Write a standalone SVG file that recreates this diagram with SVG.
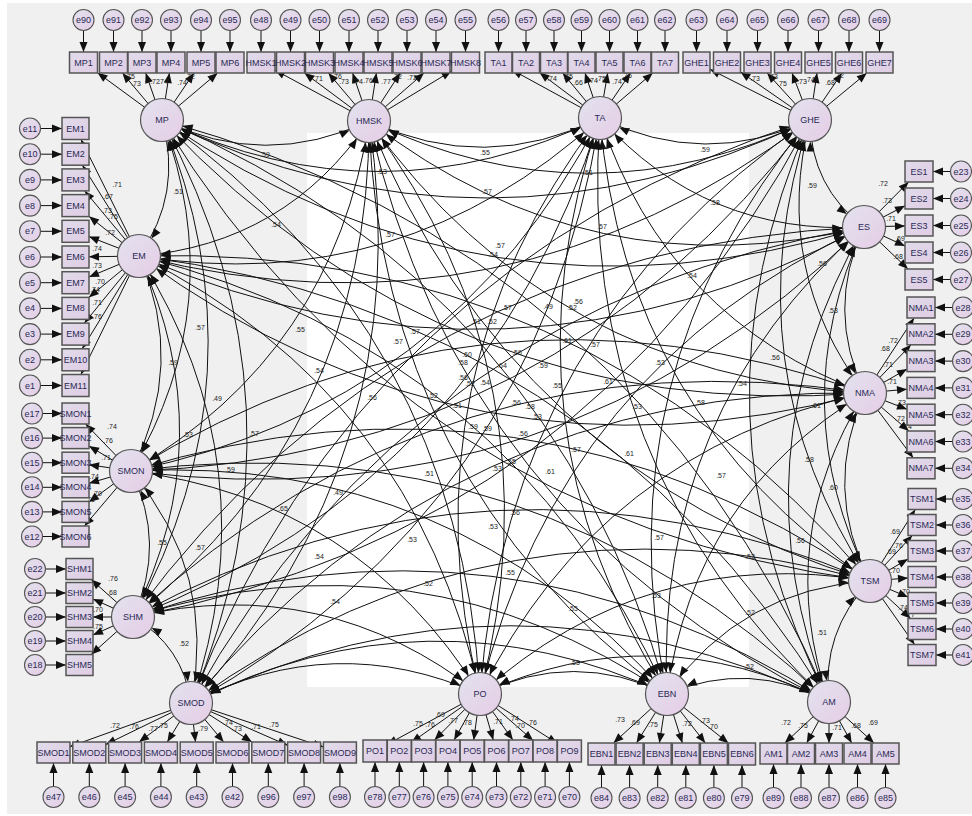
<svg xmlns="http://www.w3.org/2000/svg" width="972" height="816" viewBox="0 0 972 816">
<style>
.lat{fill:url(#gl);stroke:#555;stroke-width:1.2}
.box{fill:url(#gb);stroke:#555;stroke-width:1.5}
.err{fill:url(#gl);stroke:#555;stroke-width:1.1}
.t{font-family:"Liberation Sans",Arial,sans-serif;font-size:9px;fill:#2a2a55;text-anchor:middle;dominant-baseline:central}
.v{font-family:"Liberation Sans",Arial,sans-serif;font-size:7px;fill:#222;text-anchor:middle}
.c{fill:none;stroke:#111;stroke-width:1;marker-start:url(#cv);marker-end:url(#cv)}
.r{stroke:#111;stroke-width:1;marker-end:url(#ar)}
</style>
<defs>
<linearGradient id="gl" x1="0" y1="0" x2="1" y2="1"><stop offset="0" stop-color="#e2e2ee"/><stop offset="1" stop-color="#e6cde6"/></linearGradient>
<linearGradient id="gb" x1="0" y1="0" x2="1" y2="1"><stop offset="0" stop-color="#e0dcea"/><stop offset="1" stop-color="#e0cce4"/></linearGradient>
<marker id="cv" markerUnits="userSpaceOnUse" markerWidth="33" markerHeight="8" refX="31.5" refY="4" orient="auto-start-reverse" overflow="visible"><path d="M0,0 L10,4 L0,8 z" fill="#111"/></marker>
<marker id="ar" markerUnits="userSpaceOnUse" markerWidth="11" markerHeight="8" refX="10" refY="4" orient="auto" overflow="visible"><path d="M0,0 L10,4 L0,8 z" fill="#111"/></marker>
</defs>
<rect x="0" y="0" width="972" height="816" fill="#fff"/>
<rect x="7" y="3" width="965" height="811" fill="#f0f0f0"/>
<rect x="307" y="133" width="442" height="554" fill="#fff"/>
<g id="connectors">
<path class="c" d="M162 120 Q265 170 369 121"/>
<path class="c" d="M162 120 Q382 224 600 118"/>
<path class="c" d="M162 120 Q486 276 810 120"/>
<path class="c" d="M162 120 Q487 342 864 227"/>
<path class="c" d="M162 120 Q448 425 865 393"/>
<path class="c" d="M162 120 Q405 520 870 581"/>
<path class="c" d="M162 120 Q635 251 829 702"/>
<path class="c" d="M162 120 Q552 286 667 694"/>
<path class="c" d="M162 120 Q459 331 480 694"/>
<path class="c" d="M162 120 Q316 405 191 703"/>
<path class="c" d="M162 120 Q267 376 133 617"/>
<path class="c" d="M162 120 Q231 303 131 471"/>
<path class="c" d="M162 120 Q183 194 139 256"/>
<path class="c" d="M369 121 Q485 175 600 118"/>
<path class="c" d="M369 121 Q590 226 810 120"/>
<path class="c" d="M369 121 Q591 293 864 227"/>
<path class="c" d="M369 121 Q552 376 865 393"/>
<path class="c" d="M369 121 Q509 471 870 581"/>
<path class="c" d="M369 121 Q460 522 829 702"/>
<path class="c" d="M369 121 Q381 479 667 694"/>
<path class="c" d="M369 121 Q562 381 480 694"/>
<path class="c" d="M369 121 Q420 455 191 703"/>
<path class="c" d="M369 121 Q370 426 133 617"/>
<path class="c" d="M369 121 Q334 353 131 471"/>
<path class="c" d="M369 121 Q286 244 139 256"/>
<path class="c" d="M600 118 Q705 169 810 120"/>
<path class="c" d="M600 118 Q706 236 864 227"/>
<path class="c" d="M600 118 Q667 319 865 393"/>
<path class="c" d="M600 118 Q624 414 870 581"/>
<path class="c" d="M600 118 Q574 465 829 702"/>
<path class="c" d="M600 118 Q495 422 667 694"/>
<path class="c" d="M600 118 Q402 377 480 694"/>
<path class="c" d="M600 118 Q536 509 191 703"/>
<path class="c" d="M600 118 Q486 480 133 617"/>
<path class="c" d="M600 118 Q450 407 131 471"/>
<path class="c" d="M600 118 Q403 298 139 256"/>
<path class="c" d="M810 120 Q811 187 864 227"/>
<path class="c" d="M810 120 Q772 270 865 393"/>
<path class="c" d="M810 120 Q729 365 870 581"/>
<path class="c" d="M810 120 Q680 416 829 702"/>
<path class="c" d="M810 120 Q601 373 667 694"/>
<path class="c" d="M810 120 Q507 328 480 694"/>
<path class="c" d="M810 120 Q361 263 191 703"/>
<path class="c" d="M810 120 Q591 531 133 617"/>
<path class="c" d="M810 120 Q555 459 131 471"/>
<path class="c" d="M810 120 Q507 349 139 256"/>
<path class="c" d="M864 227 Q825 310 865 393"/>
<path class="c" d="M864 227 Q782 406 870 581"/>
<path class="c" d="M864 227 Q733 456 829 702"/>
<path class="c" d="M864 227 Q654 413 667 694"/>
<path class="c" d="M864 227 Q560 368 480 694"/>
<path class="c" d="M864 227 Q413 304 191 703"/>
<path class="c" d="M864 227 Q405 247 133 617"/>
<path class="c" d="M864 227 Q556 525 131 471"/>
<path class="c" d="M864 227 Q509 416 139 256"/>
<path class="c" d="M865 393 Q822 488 870 581"/>
<path class="c" d="M865 393 Q773 539 829 702"/>
<path class="c" d="M865 393 Q694 496 667 694"/>
<path class="c" d="M865 393 Q600 451 480 694"/>
<path class="c" d="M865 393 Q454 386 191 703"/>
<path class="c" d="M865 393 Q445 329 133 617"/>
<path class="c" d="M865 393 Q479 256 131 471"/>
<path class="c" d="M865 393 Q469 499 139 256"/>
<path class="c" d="M870 581 Q821 632 829 702"/>
<path class="c" d="M870 581 Q741 589 667 694"/>
<path class="c" d="M870 581 Q648 544 480 694"/>
<path class="c" d="M870 581 Q501 479 191 703"/>
<path class="c" d="M870 581 Q493 422 133 617"/>
<path class="c" d="M870 581 Q527 349 131 471"/>
<path class="c" d="M870 581 Q583 243 139 256"/>
<path class="c" d="M829 702 Q750 659 667 694"/>
<path class="c" d="M829 702 Q656 614 480 694"/>
<path class="c" d="M829 702 Q510 549 191 703"/>
<path class="c" d="M829 702 Q501 493 133 617"/>
<path class="c" d="M829 702 Q535 419 131 471"/>
<path class="c" d="M829 702 Q591 313 139 256"/>
<path class="c" d="M667 694 Q574 649 480 694"/>
<path class="c" d="M667 694 Q427 584 191 703"/>
<path class="c" d="M667 694 Q419 527 133 617"/>
<path class="c" d="M667 694 Q453 454 131 471"/>
<path class="c" d="M667 694 Q508 348 139 256"/>
<path class="c" d="M480 694 Q333 629 191 703"/>
<path class="c" d="M480 694 Q325 572 133 617"/>
<path class="c" d="M480 694 Q359 499 131 471"/>
<path class="c" d="M480 694 Q415 393 139 256"/>
<path class="c" d="M191 703 Q183 646 133 617"/>
<path class="c" d="M191 703 Q217 573 131 471"/>
<path class="c" d="M191 703 Q272 467 139 256"/>
<path class="c" d="M133 617 Q167 544 131 471"/>
<path class="c" d="M133 617 Q223 438 139 256"/>
<path class="c" d="M131 471 Q187 365 139 256"/>
<line class="r" x1="162" y1="120" x2="97.5" y2="72.7"/><line class="r" x1="162" y1="120" x2="122.4" y2="73"/><line class="r" x1="162" y1="120" x2="145.7" y2="73"/><line class="r" x1="162" y1="120" x2="169.4" y2="73"/><line class="r" x1="162" y1="120" x2="193.9" y2="73"/><line class="r" x1="162" y1="120" x2="217.6" y2="73"/>
<line class="r" x1="369" y1="121" x2="275" y2="70.1"/><line class="r" x1="369" y1="121" x2="304.5" y2="73"/><line class="r" x1="369" y1="121" x2="328.4" y2="73"/><line class="r" x1="369" y1="121" x2="352.6" y2="73"/><line class="r" x1="369" y1="121" x2="376.4" y2="73"/><line class="r" x1="369" y1="121" x2="400.2" y2="73"/><line class="r" x1="369" y1="121" x2="424" y2="73"/><line class="r" x1="369" y1="121" x2="451.5" y2="71"/>
<line class="r" x1="600" y1="118" x2="512" y2="69.9"/><line class="r" x1="600" y1="118" x2="539.5" y2="72.6"/><line class="r" x1="600" y1="118" x2="562.7" y2="73"/><line class="r" x1="600" y1="118" x2="585" y2="73"/><line class="r" x1="600" y1="118" x2="607.7" y2="73"/><line class="r" x1="600" y1="118" x2="630.4" y2="73"/><line class="r" x1="600" y1="118" x2="652.7" y2="73"/>
<line class="r" x1="810" y1="120" x2="710" y2="69.3"/><line class="r" x1="810" y1="120" x2="740.5" y2="71.9"/><line class="r" x1="810" y1="120" x2="767.1" y2="73"/><line class="r" x1="810" y1="120" x2="792" y2="73"/><line class="r" x1="810" y1="120" x2="817" y2="73"/><line class="r" x1="810" y1="120" x2="841.9" y2="73"/><line class="r" x1="810" y1="120" x2="866.8" y2="73"/>
<line class="r" x1="139" y1="256" x2="81" y2="139.5"/><line class="r" x1="139" y1="256" x2="82.4" y2="165.2"/><line class="r" x1="139" y1="256" x2="84.7" y2="190.9"/><line class="r" x1="139" y1="256" x2="89" y2="216.3"/><line class="r" x1="139" y1="256" x2="89" y2="236.6"/><line class="r" x1="139" y1="256" x2="89" y2="256.8"/><line class="r" x1="139" y1="256" x2="89" y2="277"/><line class="r" x1="139" y1="256" x2="88.8" y2="297.4"/><line class="r" x1="139" y1="256" x2="84.4" y2="323.1"/><line class="r" x1="139" y1="256" x2="82.2" y2="348.8"/><line class="r" x1="139" y1="256" x2="80.9" y2="374.5"/>
<line class="r" x1="131" y1="471" x2="85.6" y2="424"/><line class="r" x1="131" y1="471" x2="89" y2="446.1"/><line class="r" x1="131" y1="471" x2="89" y2="464.7"/><line class="r" x1="131" y1="471" x2="89" y2="483.3"/><line class="r" x1="131" y1="471" x2="89" y2="502"/><line class="r" x1="131" y1="471" x2="84.4" y2="526"/>
<line class="r" x1="133" y1="617" x2="91.2" y2="579.5"/><line class="r" x1="133" y1="617" x2="93" y2="599"/><line class="r" x1="133" y1="617" x2="93" y2="617"/><line class="r" x1="133" y1="617" x2="93" y2="635"/><line class="r" x1="133" y1="617" x2="91.2" y2="654.5"/>
<line class="r" x1="191" y1="703" x2="70" y2="746.6"/><line class="r" x1="191" y1="703" x2="105.8" y2="744.5"/><line class="r" x1="191" y1="703" x2="139.1" y2="742"/><line class="r" x1="191" y1="703" x2="167.3" y2="742"/><line class="r" x1="191" y1="703" x2="195.5" y2="742"/><line class="r" x1="191" y1="703" x2="223.7" y2="742"/><line class="r" x1="191" y1="703" x2="251.9" y2="742"/><line class="r" x1="191" y1="703" x2="287.6" y2="745.3"/><line class="r" x1="191" y1="703" x2="323.4" y2="747"/>
<line class="r" x1="480" y1="694" x2="387" y2="744.5"/><line class="r" x1="480" y1="694" x2="411.3" y2="742.5"/><line class="r" x1="480" y1="694" x2="434.5" y2="740"/><line class="r" x1="480" y1="694" x2="454.1" y2="740"/><line class="r" x1="480" y1="694" x2="473.7" y2="740"/><line class="r" x1="480" y1="694" x2="493.3" y2="740"/><line class="r" x1="480" y1="694" x2="512.9" y2="740"/><line class="r" x1="480" y1="694" x2="533.1" y2="740.5"/><line class="r" x1="480" y1="694" x2="557.4" y2="743.4"/>
<line class="r" x1="667" y1="694" x2="613.5" y2="743"/><line class="r" x1="667" y1="694" x2="636.5" y2="743"/><line class="r" x1="667" y1="694" x2="659.4" y2="743"/><line class="r" x1="667" y1="694" x2="682.4" y2="743"/><line class="r" x1="667" y1="694" x2="705.3" y2="743"/><line class="r" x1="667" y1="694" x2="728.5" y2="743.2"/>
<line class="r" x1="829" y1="702" x2="784.8" y2="743"/><line class="r" x1="829" y1="702" x2="806.7" y2="743"/><line class="r" x1="829" y1="702" x2="829" y2="743"/><line class="r" x1="829" y1="702" x2="851.7" y2="743"/><line class="r" x1="829" y1="702" x2="874" y2="743"/>
<line class="r" x1="864" y1="227" x2="908.6" y2="182"/><line class="r" x1="864" y1="227" x2="905" y2="205.8"/><line class="r" x1="864" y1="227" x2="905" y2="225.9"/><line class="r" x1="864" y1="227" x2="905" y2="246"/><line class="r" x1="864" y1="227" x2="908" y2="269"/>
<line class="r" x1="865" y1="393" x2="914.1" y2="318"/><line class="r" x1="865" y1="393" x2="911" y2="344.8"/><line class="r" x1="865" y1="393" x2="907" y2="369.1"/><line class="r" x1="865" y1="393" x2="907" y2="389.2"/><line class="r" x1="865" y1="393" x2="907" y2="409.3"/><line class="r" x1="865" y1="393" x2="908.9" y2="431"/><line class="r" x1="865" y1="393" x2="913.2" y2="457.8"/>
<line class="r" x1="870" y1="581" x2="915.3" y2="509.5"/><line class="r" x1="870" y1="581" x2="912.3" y2="535.5"/><line class="r" x1="870" y1="581" x2="908" y2="559.1"/><line class="r" x1="870" y1="581" x2="908" y2="578"/><line class="r" x1="870" y1="581" x2="908" y2="597.1"/><line class="r" x1="870" y1="581" x2="910.6" y2="618.5"/><line class="r" x1="870" y1="581" x2="914.6" y2="644.5"/>
<line class="r" x1="83.5" y1="30.5" x2="83.5" y2="52"/><line class="r" x1="113.5" y1="30.5" x2="113.5" y2="52"/><line class="r" x1="142" y1="30.5" x2="142" y2="52"/><line class="r" x1="171" y1="30.5" x2="171" y2="52"/><line class="r" x1="201" y1="30.5" x2="201" y2="52"/><line class="r" x1="230" y1="30.5" x2="230" y2="52"/>
<line class="r" x1="261" y1="30.5" x2="261" y2="52"/><line class="r" x1="290.5" y1="30.5" x2="290.5" y2="52"/><line class="r" x1="319.5" y1="30.5" x2="319.5" y2="52"/><line class="r" x1="349" y1="30.5" x2="349" y2="52"/><line class="r" x1="378" y1="30.5" x2="378" y2="52"/><line class="r" x1="407" y1="30.5" x2="407" y2="52"/><line class="r" x1="436" y1="30.5" x2="436" y2="52"/><line class="r" x1="465.5" y1="30.5" x2="465.5" y2="52"/>
<line class="r" x1="498.5" y1="30.5" x2="498.5" y2="52"/><line class="r" x1="526" y1="30.5" x2="526" y2="52"/><line class="r" x1="554" y1="30.5" x2="554" y2="52"/><line class="r" x1="581.5" y1="30.5" x2="581.5" y2="52"/><line class="r" x1="609.5" y1="30.5" x2="609.5" y2="52"/><line class="r" x1="637.5" y1="30.5" x2="637.5" y2="52"/><line class="r" x1="665" y1="30.5" x2="665" y2="52"/>
<line class="r" x1="696.5" y1="30.5" x2="696.5" y2="52"/><line class="r" x1="727" y1="30.5" x2="727" y2="52"/><line class="r" x1="757.5" y1="30.5" x2="757.5" y2="52"/><line class="r" x1="788" y1="30.5" x2="788" y2="52"/><line class="r" x1="818.5" y1="30.5" x2="818.5" y2="52"/><line class="r" x1="849" y1="30.5" x2="849" y2="52"/><line class="r" x1="879.5" y1="30.5" x2="879.5" y2="52"/>
<line class="r" x1="40.5" y1="128.5" x2="62" y2="128.5"/><line class="r" x1="40.5" y1="154.2" x2="62" y2="154.2"/><line class="r" x1="40.5" y1="179.9" x2="62" y2="179.9"/><line class="r" x1="40.5" y1="205.6" x2="62" y2="205.6"/><line class="r" x1="40.5" y1="231.3" x2="62" y2="231.3"/><line class="r" x1="40.5" y1="257" x2="62" y2="257"/><line class="r" x1="40.5" y1="282.7" x2="62" y2="282.7"/><line class="r" x1="40.5" y1="308.4" x2="62" y2="308.4"/><line class="r" x1="40.5" y1="334.1" x2="62" y2="334.1"/><line class="r" x1="40.5" y1="359.8" x2="62" y2="359.8"/><line class="r" x1="40.5" y1="385.5" x2="62" y2="385.5"/>
<line class="r" x1="42.5" y1="413.5" x2="62" y2="413.5"/><line class="r" x1="42.5" y1="438.1" x2="62" y2="438.1"/><line class="r" x1="42.5" y1="462.7" x2="62" y2="462.7"/><line class="r" x1="42.5" y1="487.3" x2="62" y2="487.3"/><line class="r" x1="42.5" y1="511.9" x2="62" y2="511.9"/><line class="r" x1="42.5" y1="536.5" x2="62" y2="536.5"/>
<line class="r" x1="45.5" y1="569" x2="66" y2="569"/><line class="r" x1="45.5" y1="593" x2="66" y2="593"/><line class="r" x1="45.5" y1="617" x2="66" y2="617"/><line class="r" x1="45.5" y1="641" x2="66" y2="641"/><line class="r" x1="45.5" y1="665" x2="66" y2="665"/>
<line class="r" x1="53.5" y1="786.5" x2="53.5" y2="763"/><line class="r" x1="89.3" y1="786.5" x2="89.3" y2="763"/><line class="r" x1="125.1" y1="786.5" x2="125.1" y2="763"/><line class="r" x1="160.9" y1="786.5" x2="160.9" y2="763"/><line class="r" x1="196.7" y1="786.5" x2="196.7" y2="763"/><line class="r" x1="232.5" y1="786.5" x2="232.5" y2="763"/><line class="r" x1="268.3" y1="786.5" x2="268.3" y2="763"/><line class="r" x1="304.1" y1="786.5" x2="304.1" y2="763"/><line class="r" x1="339.9" y1="786.5" x2="339.9" y2="763"/>
<line class="r" x1="375" y1="786.5" x2="375" y2="762"/><line class="r" x1="399.3" y1="786.5" x2="399.3" y2="762"/><line class="r" x1="423.6" y1="786.5" x2="423.6" y2="762"/><line class="r" x1="447.9" y1="786.5" x2="447.9" y2="762"/><line class="r" x1="472.2" y1="786.5" x2="472.2" y2="762"/><line class="r" x1="496.5" y1="786.5" x2="496.5" y2="762"/><line class="r" x1="520.8" y1="786.5" x2="520.8" y2="762"/><line class="r" x1="545.1" y1="786.5" x2="545.1" y2="762"/><line class="r" x1="569.4" y1="786.5" x2="569.4" y2="762"/>
<line class="r" x1="601.5" y1="787.5" x2="601.5" y2="765"/><line class="r" x1="629.6" y1="787.5" x2="629.6" y2="765"/><line class="r" x1="657.7" y1="787.5" x2="657.7" y2="765"/><line class="r" x1="685.8" y1="787.5" x2="685.8" y2="765"/><line class="r" x1="713.9" y1="787.5" x2="713.9" y2="765"/><line class="r" x1="742" y1="787.5" x2="742" y2="765"/>
<line class="r" x1="773.5" y1="787.5" x2="773.5" y2="764"/><line class="r" x1="801" y1="787.5" x2="801" y2="764"/><line class="r" x1="829" y1="787.5" x2="829" y2="764"/><line class="r" x1="857.5" y1="787.5" x2="857.5" y2="764"/><line class="r" x1="885.5" y1="787.5" x2="885.5" y2="764"/>
<line class="r" x1="950.5" y1="171.5" x2="933" y2="171.5"/><line class="r" x1="950.5" y1="198.5" x2="933" y2="198.5"/><line class="r" x1="950.5" y1="225.5" x2="933" y2="225.5"/><line class="r" x1="950.5" y1="252.5" x2="933" y2="252.5"/><line class="r" x1="950.5" y1="279.5" x2="933" y2="279.5"/>
<line class="r" x1="952.5" y1="307.5" x2="935" y2="307.5"/><line class="r" x1="952.5" y1="334.3" x2="935" y2="334.3"/><line class="r" x1="952.5" y1="361.1" x2="935" y2="361.1"/><line class="r" x1="952.5" y1="387.9" x2="935" y2="387.9"/><line class="r" x1="952.5" y1="414.7" x2="935" y2="414.7"/><line class="r" x1="952.5" y1="441.5" x2="935" y2="441.5"/><line class="r" x1="952.5" y1="468.3" x2="935" y2="468.3"/>
<line class="r" x1="952.5" y1="499" x2="936" y2="499"/><line class="r" x1="952.5" y1="525" x2="936" y2="525"/><line class="r" x1="952.5" y1="551" x2="936" y2="551"/><line class="r" x1="952.5" y1="577" x2="936" y2="577"/><line class="r" x1="952.5" y1="603" x2="936" y2="603"/><line class="r" x1="952.5" y1="629" x2="936" y2="629"/><line class="r" x1="952.5" y1="655" x2="936" y2="655"/>
</g>
<g id="cov-labels">
<text class="v" x="265" y="157">.59</text><text class="v" x="178" y="194">.51</text><text class="v" x="276" y="227">.54</text><text class="v" x="200" y="330">.57</text><text class="v" x="300" y="332">.55</text><text class="v" x="217" y="401">.49</text><text class="v" x="173" y="365">.59</text><text class="v" x="254" y="436">.57</text><text class="v" x="188" y="437">.53</text><text class="v" x="230" y="472">.59</text><text class="v" x="162" y="545">.55</text><text class="v" x="200" y="550">.57</text><text class="v" x="283" y="511">.65</text><text class="v" x="184" y="646">.52</text>
<text class="v" x="812" y="188">.59</text><text class="v" x="822" y="266">.56</text><text class="v" x="833" y="313">.53</text><text class="v" x="775" y="360">.56</text><text class="v" x="816" y="408">.61</text><text class="v" x="809" y="462">.58</text><text class="v" x="833" y="490">.60</text><text class="v" x="800" y="543">.56</text><text class="v" x="822" y="635">.51</text><text class="v" x="749" y="669">.52</text><text class="v" x="575" y="665">.55</text>
<text class="v" x="485" y="155">.55</text><text class="v" x="705" y="152">.59</text><text class="v" x="382" y="174">.53</text><text class="v" x="588" y="175">.51</text><text class="v" x="487" y="194">.57</text><text class="v" x="715" y="205">.58</text><text class="v" x="390" y="237">.57</text><text class="v" x="602" y="229">.57</text><text class="v" x="500" y="248">.57</text><text class="v" x="493" y="257">.54</text><text class="v" x="692" y="278">.54</text><text class="v" x="578" y="304">.56</text><text class="v" x="507" y="310">.57</text><text class="v" x="548" y="309">.49</text><text class="v" x="572" y="310">.52</text><text class="v" x="476" y="324">.51</text><text class="v" x="492" y="324">.52</text><text class="v" x="415" y="334">.57</text><text class="v" x="398" y="344">.57</text><text class="v" x="567" y="343">.61</text><text class="v" x="595" y="347">.57</text><text class="v" x="467" y="357">.60</text><text class="v" x="517" y="355">.56</text><text class="v" x="463" y="365">.58</text><text class="v" x="502" y="368">.64</text><text class="v" x="543" y="368">.59</text><text class="v" x="660" y="365">.53</text><text class="v" x="319" y="373">.54</text><text class="v" x="463" y="380">.56</text><text class="v" x="470" y="386">.52</text><text class="v" x="485" y="385">.54</text><text class="v" x="557" y="388">.55</text><text class="v" x="608" y="384">.61</text><text class="v" x="742" y="386">.54</text><text class="v" x="372" y="400">.56</text><text class="v" x="433" y="398">.52</text><text class="v" x="457" y="408">.51</text><text class="v" x="516" y="405">.56</text><text class="v" x="530" y="409">.58</text><text class="v" x="637" y="409">.53</text><text class="v" x="700" y="405">.58</text><text class="v" x="537" y="419">.53</text><text class="v" x="473" y="429">.59</text><text class="v" x="487" y="431">.59</text><text class="v" x="523" y="436">.56</text><text class="v" x="576" y="452">.57</text><text class="v" x="629" y="456">.61</text><text class="v" x="511" y="464">.55</text><text class="v" x="497" y="471">.53</text><text class="v" x="429" y="476">.51</text><text class="v" x="550" y="474">.61</text><text class="v" x="721" y="478">.57</text><text class="v" x="338" y="495">.49</text><text class="v" x="515" y="515">.56</text><text class="v" x="493" y="529">.53</text><text class="v" x="412" y="542">.53</text><text class="v" x="659" y="540">.57</text><text class="v" x="319" y="559">.54</text><text class="v" x="750" y="559">.52</text><text class="v" x="510" y="575">.55</text><text class="v" x="428" y="586">.52</text><text class="v" x="656" y="598">.53</text><text class="v" x="335" y="604">.54</text><text class="v" x="573" y="611">.55</text><text class="v" x="750" y="615">.52</text>
</g>
<g id="load-labels">
<text class="v" x="130" y="79">.75</text><text class="v" x="136" y="86">.73</text><text class="v" x="155" y="84">.72</text><text class="v" x="163" y="84">.74</text><text class="v" x="182" y="85">.74</text><text class="v" x="190" y="79">.72</text>
<text class="v" x="318" y="81">.71</text><text class="v" x="337" y="79">.76</text><text class="v" x="344" y="84">.73</text><text class="v" x="358" y="84">.74</text><text class="v" x="368" y="83">.76</text><text class="v" x="386" y="84">.77</text><text class="v" x="397" y="79">.72</text><text class="v" x="412" y="80">.72</text>
<text class="v" x="552" y="81">.74</text><text class="v" x="568" y="79">.75</text><text class="v" x="578" y="85">.66</text><text class="v" x="593" y="83">.74</text><text class="v" x="601" y="81">.75</text><text class="v" x="617" y="84">.74</text><text class="v" x="627" y="78">.75</text>
<text class="v" x="755" y="81">.73</text><text class="v" x="773" y="79">.73</text><text class="v" x="782" y="86">.75</text><text class="v" x="802" y="84">.73</text><text class="v" x="810" y="82">.74</text><text class="v" x="830" y="85">.68</text><text class="v" x="839" y="78">.72</text>
<text class="v" x="117" y="187">.71</text><text class="v" x="108" y="199">.67</text><text class="v" x="107" y="213">.73</text><text class="v" x="113" y="219">.75</text><text class="v" x="110" y="235">.72</text><text class="v" x="97" y="251">.74</text><text class="v" x="97" y="268">.73</text><text class="v" x="100" y="284">.70</text><text class="v" x="95" y="292">.74</text><text class="v" x="97" y="305">.71</text><text class="v" x="97" y="319">.76</text>
<text class="v" x="112" y="429">.74</text><text class="v" x="108" y="443">.76</text><text class="v" x="106" y="460">.71</text><text class="v" x="94" y="479">.74</text><text class="v" x="97" y="496">.70</text><text class="v" x="90" y="502">.71</text>
<text class="v" x="113" y="581">.76</text><text class="v" x="112" y="595">.68</text><text class="v" x="98" y="612">.70</text><text class="v" x="98" y="629">.75</text>
<text class="v" x="115" y="728">.72</text><text class="v" x="134" y="729">.76</text><text class="v" x="153" y="731">.77</text><text class="v" x="163" y="728">.75</text><text class="v" x="203" y="731">.79</text><text class="v" x="228" y="725">.74</text><text class="v" x="237" y="731">.73</text><text class="v" x="256" y="729">.71</text><text class="v" x="274" y="727">.75</text>
<text class="v" x="418" y="726">.75</text><text class="v" x="440" y="717">.69</text><text class="v" x="430" y="727">.76</text><text class="v" x="453" y="723">.77</text><text class="v" x="467" y="725">.78</text><text class="v" x="498" y="724">.71</text><text class="v" x="514" y="721">.74</text><text class="v" x="520" y="728">.70</text><text class="v" x="532" y="725">.76</text>
<text class="v" x="620" y="722">.73</text><text class="v" x="635" y="725">.69</text><text class="v" x="653" y="727">.75</text><text class="v" x="687" y="726">.72</text><text class="v" x="705" y="723">.73</text><text class="v" x="713" y="729">.70</text>
<text class="v" x="786" y="725">.72</text><text class="v" x="803" y="728">.75</text><text class="v" x="837" y="730">.71</text><text class="v" x="856" y="728">.68</text><text class="v" x="873" y="725">.69</text>
<text class="v" x="883" y="186">.72</text><text class="v" x="887" y="203">.73</text><text class="v" x="891" y="221">.71</text><text class="v" x="900" y="241">.69</text><text class="v" x="898" y="259">.68</text>
<text class="v" x="893" y="343">.72</text><text class="v" x="885" y="351">.68</text><text class="v" x="888" y="367">.71</text><text class="v" x="892" y="384">.71</text><text class="v" x="901" y="405">.73</text><text class="v" x="900" y="421">.72</text><text class="v" x="907" y="429">.74</text>
<text class="v" x="895" y="534">.69</text><text class="v" x="898" y="548">.76</text><text class="v" x="891" y="554">.69</text><text class="v" x="895" y="573">.70</text><text class="v" x="905" y="594">.70</text><text class="v" x="903" y="610">.74</text><text class="v" x="910" y="617">.77</text>
</g>
<g id="MP"><circle class="lat" cx="162" cy="120" r="21.5"/><text class="t" x="162" y="120">MP</text></g>
<g id="HMSK"><circle class="lat" cx="369" cy="121" r="21.5"/><text class="t" x="369" y="121">HMSK</text></g>
<g id="TA"><circle class="lat" cx="600" cy="118" r="21.5"/><text class="t" x="600" y="118">TA</text></g>
<g id="GHE"><circle class="lat" cx="810" cy="120" r="21.5"/><text class="t" x="810" y="120">GHE</text></g>
<g id="ES"><circle class="lat" cx="864" cy="227" r="21.5"/><text class="t" x="864" y="227">ES</text></g>
<g id="NMA"><circle class="lat" cx="865" cy="393" r="21.5"/><text class="t" x="865" y="393">NMA</text></g>
<g id="TSM"><circle class="lat" cx="870" cy="581" r="21.5"/><text class="t" x="870" y="581">TSM</text></g>
<g id="AM"><circle class="lat" cx="829" cy="702" r="21.5"/><text class="t" x="829" y="702">AM</text></g>
<g id="EBN"><circle class="lat" cx="667" cy="694" r="21.5"/><text class="t" x="667" y="694">EBN</text></g>
<g id="PO"><circle class="lat" cx="480" cy="694" r="21.5"/><text class="t" x="480" y="694">PO</text></g>
<g id="SMOD"><circle class="lat" cx="191" cy="703" r="21.5"/><text class="t" x="191" y="703">SMOD</text></g>
<g id="SHM"><circle class="lat" cx="133" cy="617" r="21.5"/><text class="t" x="133" y="617">SHM</text></g>
<g id="SMON"><circle class="lat" cx="131" cy="471" r="21.5"/><text class="t" x="131" y="471">SMON</text></g>
<g id="EM"><circle class="lat" cx="139" cy="256" r="21.5"/><text class="t" x="139" y="256">EM</text></g>
<g id="MP-ind">
<rect class="box" x="69.5" y="52" width="28" height="21"/><text class="t" x="83.5" y="62.5">MP1</text><circle class="err" cx="83.5" cy="20" r="10.5"/><text class="t" x="83.5" y="20">e90</text>
<rect class="box" x="99.5" y="52" width="28" height="21"/><text class="t" x="113.5" y="62.5">MP2</text><circle class="err" cx="113.5" cy="20" r="10.5"/><text class="t" x="113.5" y="20">e91</text>
<rect class="box" x="128" y="52" width="28" height="21"/><text class="t" x="142" y="62.5">MP3</text><circle class="err" cx="142" cy="20" r="10.5"/><text class="t" x="142" y="20">e92</text>
<rect class="box" x="157" y="52" width="28" height="21"/><text class="t" x="171" y="62.5">MP4</text><circle class="err" cx="171" cy="20" r="10.5"/><text class="t" x="171" y="20">e93</text>
<rect class="box" x="187" y="52" width="28" height="21"/><text class="t" x="201" y="62.5">MP5</text><circle class="err" cx="201" cy="20" r="10.5"/><text class="t" x="201" y="20">e94</text>
<rect class="box" x="216" y="52" width="28" height="21"/><text class="t" x="230" y="62.5">MP6</text><circle class="err" cx="230" cy="20" r="10.5"/><text class="t" x="230" y="20">e95</text>
</g>
<g id="HMSK-ind">
<rect class="box" x="247" y="52" width="28" height="21"/><text class="t" x="261" y="62.5">HMSK1</text><circle class="err" cx="261" cy="20" r="10.5"/><text class="t" x="261" y="20">e48</text>
<rect class="box" x="276.5" y="52" width="28" height="21"/><text class="t" x="290.5" y="62.5">HMSK2</text><circle class="err" cx="290.5" cy="20" r="10.5"/><text class="t" x="290.5" y="20">e49</text>
<rect class="box" x="305.5" y="52" width="28" height="21"/><text class="t" x="319.5" y="62.5">HMSK3</text><circle class="err" cx="319.5" cy="20" r="10.5"/><text class="t" x="319.5" y="20">e50</text>
<rect class="box" x="335" y="52" width="28" height="21"/><text class="t" x="349" y="62.5">HMSK4</text><circle class="err" cx="349" cy="20" r="10.5"/><text class="t" x="349" y="20">e51</text>
<rect class="box" x="364" y="52" width="28" height="21"/><text class="t" x="378" y="62.5">HMSK5</text><circle class="err" cx="378" cy="20" r="10.5"/><text class="t" x="378" y="20">e52</text>
<rect class="box" x="393" y="52" width="28" height="21"/><text class="t" x="407" y="62.5">HMSK6</text><circle class="err" cx="407" cy="20" r="10.5"/><text class="t" x="407" y="20">e53</text>
<rect class="box" x="422" y="52" width="28" height="21"/><text class="t" x="436" y="62.5">HMSK7</text><circle class="err" cx="436" cy="20" r="10.5"/><text class="t" x="436" y="20">e54</text>
<rect class="box" x="451.5" y="52" width="28" height="21"/><text class="t" x="465.5" y="62.5">HMSK8</text><circle class="err" cx="465.5" cy="20" r="10.5"/><text class="t" x="465.5" y="20">e55</text>
</g>
<g id="TA-ind">
<rect class="box" x="485" y="52" width="27" height="21"/><text class="t" x="498.5" y="62.5">TA1</text><circle class="err" cx="498.5" cy="20" r="10.5"/><text class="t" x="498.5" y="20">e56</text>
<rect class="box" x="512.5" y="52" width="27" height="21"/><text class="t" x="526" y="62.5">TA2</text><circle class="err" cx="526" cy="20" r="10.5"/><text class="t" x="526" y="20">e57</text>
<rect class="box" x="540.5" y="52" width="27" height="21"/><text class="t" x="554" y="62.5">TA3</text><circle class="err" cx="554" cy="20" r="10.5"/><text class="t" x="554" y="20">e58</text>
<rect class="box" x="568" y="52" width="27" height="21"/><text class="t" x="581.5" y="62.5">TA4</text><circle class="err" cx="581.5" cy="20" r="10.5"/><text class="t" x="581.5" y="20">e59</text>
<rect class="box" x="596" y="52" width="27" height="21"/><text class="t" x="609.5" y="62.5">TA5</text><circle class="err" cx="609.5" cy="20" r="10.5"/><text class="t" x="609.5" y="20">e60</text>
<rect class="box" x="624" y="52" width="27" height="21"/><text class="t" x="637.5" y="62.5">TA6</text><circle class="err" cx="637.5" cy="20" r="10.5"/><text class="t" x="637.5" y="20">e61</text>
<rect class="box" x="651.5" y="52" width="27" height="21"/><text class="t" x="665" y="62.5">TA7</text><circle class="err" cx="665" cy="20" r="10.5"/><text class="t" x="665" y="20">e62</text>
</g>
<g id="GHE-ind">
<rect class="box" x="683" y="52" width="27" height="21"/><text class="t" x="696.5" y="62.5">GHE1</text><circle class="err" cx="696.5" cy="20" r="10.5"/><text class="t" x="696.5" y="20">e63</text>
<rect class="box" x="713.5" y="52" width="27" height="21"/><text class="t" x="727" y="62.5">GHE2</text><circle class="err" cx="727" cy="20" r="10.5"/><text class="t" x="727" y="20">e64</text>
<rect class="box" x="744" y="52" width="27" height="21"/><text class="t" x="757.5" y="62.5">GHE3</text><circle class="err" cx="757.5" cy="20" r="10.5"/><text class="t" x="757.5" y="20">e65</text>
<rect class="box" x="774.5" y="52" width="27" height="21"/><text class="t" x="788" y="62.5">GHE4</text><circle class="err" cx="788" cy="20" r="10.5"/><text class="t" x="788" y="20">e66</text>
<rect class="box" x="805" y="52" width="27" height="21"/><text class="t" x="818.5" y="62.5">GHE5</text><circle class="err" cx="818.5" cy="20" r="10.5"/><text class="t" x="818.5" y="20">e67</text>
<rect class="box" x="835.5" y="52" width="27" height="21"/><text class="t" x="849" y="62.5">GHE6</text><circle class="err" cx="849" cy="20" r="10.5"/><text class="t" x="849" y="20">e68</text>
<rect class="box" x="866" y="52" width="27" height="21"/><text class="t" x="879.5" y="62.5">GHE7</text><circle class="err" cx="879.5" cy="20" r="10.5"/><text class="t" x="879.5" y="20">e69</text>
</g>
<g id="EM-ind">
<rect class="box" x="62" y="117.5" width="27" height="22"/><text class="t" x="75.5" y="128.5">EM1</text><circle class="err" cx="30" cy="128.5" r="10.5"/><text class="t" x="30" y="128.5">e11</text>
<rect class="box" x="62" y="143.2" width="27" height="22"/><text class="t" x="75.5" y="154.2">EM2</text><circle class="err" cx="30" cy="154.2" r="10.5"/><text class="t" x="30" y="154.2">e10</text>
<rect class="box" x="62" y="168.9" width="27" height="22"/><text class="t" x="75.5" y="179.9">EM3</text><circle class="err" cx="30" cy="179.9" r="10.5"/><text class="t" x="30" y="179.9">e9</text>
<rect class="box" x="62" y="194.6" width="27" height="22"/><text class="t" x="75.5" y="205.6">EM4</text><circle class="err" cx="30" cy="205.6" r="10.5"/><text class="t" x="30" y="205.6">e8</text>
<rect class="box" x="62" y="220.3" width="27" height="22"/><text class="t" x="75.5" y="231.3">EM5</text><circle class="err" cx="30" cy="231.3" r="10.5"/><text class="t" x="30" y="231.3">e7</text>
<rect class="box" x="62" y="246" width="27" height="22"/><text class="t" x="75.5" y="257">EM6</text><circle class="err" cx="30" cy="257" r="10.5"/><text class="t" x="30" y="257">e6</text>
<rect class="box" x="62" y="271.7" width="27" height="22"/><text class="t" x="75.5" y="282.7">EM7</text><circle class="err" cx="30" cy="282.7" r="10.5"/><text class="t" x="30" y="282.7">e5</text>
<rect class="box" x="62" y="297.4" width="27" height="22"/><text class="t" x="75.5" y="308.4">EM8</text><circle class="err" cx="30" cy="308.4" r="10.5"/><text class="t" x="30" y="308.4">e4</text>
<rect class="box" x="62" y="323.1" width="27" height="22"/><text class="t" x="75.5" y="334.1">EM9</text><circle class="err" cx="30" cy="334.1" r="10.5"/><text class="t" x="30" y="334.1">e3</text>
<rect class="box" x="62" y="348.8" width="27" height="22"/><text class="t" x="75.5" y="359.8">EM10</text><circle class="err" cx="30" cy="359.8" r="10.5"/><text class="t" x="30" y="359.8">e2</text>
<rect class="box" x="62" y="374.5" width="27" height="22"/><text class="t" x="75.5" y="385.5">EM11</text><circle class="err" cx="30" cy="385.5" r="10.5"/><text class="t" x="30" y="385.5">e1</text>
</g>
<g id="SMON-ind">
<rect class="box" x="62" y="403" width="27" height="21"/><text class="t" x="75.5" y="413.5">SMON1</text><circle class="err" cx="32" cy="413.5" r="10.5"/><text class="t" x="32" y="413.5">e17</text>
<rect class="box" x="62" y="427.6" width="27" height="21"/><text class="t" x="75.5" y="438.1">SMON2</text><circle class="err" cx="32" cy="438.1" r="10.5"/><text class="t" x="32" y="438.1">e16</text>
<rect class="box" x="62" y="452.2" width="27" height="21"/><text class="t" x="75.5" y="462.7">SMON3</text><circle class="err" cx="32" cy="462.7" r="10.5"/><text class="t" x="32" y="462.7">e15</text>
<rect class="box" x="62" y="476.8" width="27" height="21"/><text class="t" x="75.5" y="487.3">SMON4</text><circle class="err" cx="32" cy="487.3" r="10.5"/><text class="t" x="32" y="487.3">e14</text>
<rect class="box" x="62" y="501.4" width="27" height="21"/><text class="t" x="75.5" y="511.9">SMON5</text><circle class="err" cx="32" cy="511.9" r="10.5"/><text class="t" x="32" y="511.9">e13</text>
<rect class="box" x="62" y="526" width="27" height="21"/><text class="t" x="75.5" y="536.5">SMON6</text><circle class="err" cx="32" cy="536.5" r="10.5"/><text class="t" x="32" y="536.5">e12</text>
</g>
<g id="SHM-ind">
<rect class="box" x="66" y="558.5" width="27" height="21"/><text class="t" x="79.5" y="569">SHM1</text><circle class="err" cx="35" cy="569" r="10.5"/><text class="t" x="35" y="569">e22</text>
<rect class="box" x="66" y="582.5" width="27" height="21"/><text class="t" x="79.5" y="593">SHM2</text><circle class="err" cx="35" cy="593" r="10.5"/><text class="t" x="35" y="593">e21</text>
<rect class="box" x="66" y="606.5" width="27" height="21"/><text class="t" x="79.5" y="617">SHM3</text><circle class="err" cx="35" cy="617" r="10.5"/><text class="t" x="35" y="617">e20</text>
<rect class="box" x="66" y="630.5" width="27" height="21"/><text class="t" x="79.5" y="641">SHM4</text><circle class="err" cx="35" cy="641" r="10.5"/><text class="t" x="35" y="641">e19</text>
<rect class="box" x="66" y="654.5" width="27" height="21"/><text class="t" x="79.5" y="665">SHM5</text><circle class="err" cx="35" cy="665" r="10.5"/><text class="t" x="35" y="665">e18</text>
</g>
<g id="SMOD-ind">
<rect class="box" x="37" y="742" width="33" height="21"/><text class="t" x="53.5" y="752.5">SMOD1</text><circle class="err" cx="53.5" cy="797" r="10.5"/><text class="t" x="53.5" y="797">e47</text>
<rect class="box" x="72.8" y="742" width="33" height="21"/><text class="t" x="89.3" y="752.5">SMOD2</text><circle class="err" cx="89.3" cy="797" r="10.5"/><text class="t" x="89.3" y="797">e46</text>
<rect class="box" x="108.6" y="742" width="33" height="21"/><text class="t" x="125.1" y="752.5">SMOD3</text><circle class="err" cx="125.1" cy="797" r="10.5"/><text class="t" x="125.1" y="797">e45</text>
<rect class="box" x="144.4" y="742" width="33" height="21"/><text class="t" x="160.9" y="752.5">SMOD4</text><circle class="err" cx="160.9" cy="797" r="10.5"/><text class="t" x="160.9" y="797">e44</text>
<rect class="box" x="180.2" y="742" width="33" height="21"/><text class="t" x="196.7" y="752.5">SMOD5</text><circle class="err" cx="196.7" cy="797" r="10.5"/><text class="t" x="196.7" y="797">e43</text>
<rect class="box" x="216" y="742" width="33" height="21"/><text class="t" x="232.5" y="752.5">SMOD6</text><circle class="err" cx="232.5" cy="797" r="10.5"/><text class="t" x="232.5" y="797">e42</text>
<rect class="box" x="251.8" y="742" width="33" height="21"/><text class="t" x="268.3" y="752.5">SMOD7</text><circle class="err" cx="268.3" cy="797" r="10.5"/><text class="t" x="268.3" y="797">e96</text>
<rect class="box" x="287.6" y="742" width="33" height="21"/><text class="t" x="304.1" y="752.5">SMOD8</text><circle class="err" cx="304.1" cy="797" r="10.5"/><text class="t" x="304.1" y="797">e97</text>
<rect class="box" x="323.4" y="742" width="33" height="21"/><text class="t" x="339.9" y="752.5">SMOD9</text><circle class="err" cx="339.9" cy="797" r="10.5"/><text class="t" x="339.9" y="797">e98</text>
</g>
<g id="PO-ind">
<rect class="box" x="363" y="740" width="24" height="22"/><text class="t" x="375" y="751">PO1</text><circle class="err" cx="375" cy="797" r="10.5"/><text class="t" x="375" y="797">e78</text>
<rect class="box" x="387.3" y="740" width="24" height="22"/><text class="t" x="399.3" y="751">PO2</text><circle class="err" cx="399.3" cy="797" r="10.5"/><text class="t" x="399.3" y="797">e77</text>
<rect class="box" x="411.6" y="740" width="24" height="22"/><text class="t" x="423.6" y="751">PO3</text><circle class="err" cx="423.6" cy="797" r="10.5"/><text class="t" x="423.6" y="797">e76</text>
<rect class="box" x="435.9" y="740" width="24" height="22"/><text class="t" x="447.9" y="751">PO4</text><circle class="err" cx="447.9" cy="797" r="10.5"/><text class="t" x="447.9" y="797">e75</text>
<rect class="box" x="460.2" y="740" width="24" height="22"/><text class="t" x="472.2" y="751">PO5</text><circle class="err" cx="472.2" cy="797" r="10.5"/><text class="t" x="472.2" y="797">e74</text>
<rect class="box" x="484.5" y="740" width="24" height="22"/><text class="t" x="496.5" y="751">PO6</text><circle class="err" cx="496.5" cy="797" r="10.5"/><text class="t" x="496.5" y="797">e73</text>
<rect class="box" x="508.8" y="740" width="24" height="22"/><text class="t" x="520.8" y="751">PO7</text><circle class="err" cx="520.8" cy="797" r="10.5"/><text class="t" x="520.8" y="797">e72</text>
<rect class="box" x="533.1" y="740" width="24" height="22"/><text class="t" x="545.1" y="751">PO8</text><circle class="err" cx="545.1" cy="797" r="10.5"/><text class="t" x="545.1" y="797">e71</text>
<rect class="box" x="557.4" y="740" width="24" height="22"/><text class="t" x="569.4" y="751">PO9</text><circle class="err" cx="569.4" cy="797" r="10.5"/><text class="t" x="569.4" y="797">e70</text>
</g>
<g id="EBN-ind">
<rect class="box" x="588" y="743" width="27" height="22"/><text class="t" x="601.5" y="754">EBN1</text><circle class="err" cx="601.5" cy="798" r="10.5"/><text class="t" x="601.5" y="798">e84</text>
<rect class="box" x="616.1" y="743" width="27" height="22"/><text class="t" x="629.6" y="754">EBN2</text><circle class="err" cx="629.6" cy="798" r="10.5"/><text class="t" x="629.6" y="798">e83</text>
<rect class="box" x="644.2" y="743" width="27" height="22"/><text class="t" x="657.7" y="754">EBN3</text><circle class="err" cx="657.7" cy="798" r="10.5"/><text class="t" x="657.7" y="798">e82</text>
<rect class="box" x="672.3" y="743" width="27" height="22"/><text class="t" x="685.8" y="754">EBN4</text><circle class="err" cx="685.8" cy="798" r="10.5"/><text class="t" x="685.8" y="798">e81</text>
<rect class="box" x="700.4" y="743" width="27" height="22"/><text class="t" x="713.9" y="754">EBN5</text><circle class="err" cx="713.9" cy="798" r="10.5"/><text class="t" x="713.9" y="798">e80</text>
<rect class="box" x="728.5" y="743" width="27" height="22"/><text class="t" x="742" y="754">EBN6</text><circle class="err" cx="742" cy="798" r="10.5"/><text class="t" x="742" y="798">e79</text>
</g>
<g id="AM-ind">
<rect class="box" x="760" y="743" width="27" height="21"/><text class="t" x="773.5" y="753.5">AM1</text><circle class="err" cx="773.5" cy="798" r="10.5"/><text class="t" x="773.5" y="798">e89</text>
<rect class="box" x="787.5" y="743" width="27" height="21"/><text class="t" x="801" y="753.5">AM2</text><circle class="err" cx="801" cy="798" r="10.5"/><text class="t" x="801" y="798">e88</text>
<rect class="box" x="815.5" y="743" width="27" height="21"/><text class="t" x="829" y="753.5">AM3</text><circle class="err" cx="829" cy="798" r="10.5"/><text class="t" x="829" y="798">e87</text>
<rect class="box" x="844" y="743" width="27" height="21"/><text class="t" x="857.5" y="753.5">AM4</text><circle class="err" cx="857.5" cy="798" r="10.5"/><text class="t" x="857.5" y="798">e86</text>
<rect class="box" x="872" y="743" width="27" height="21"/><text class="t" x="885.5" y="753.5">AM5</text><circle class="err" cx="885.5" cy="798" r="10.5"/><text class="t" x="885.5" y="798">e85</text>
</g>
<g id="ES-ind">
<rect class="box" x="905" y="161" width="28" height="21"/><text class="t" x="919" y="171.5">ES1</text><circle class="err" cx="961" cy="171.5" r="10.5"/><text class="t" x="961" y="171.5">e23</text>
<rect class="box" x="905" y="188" width="28" height="21"/><text class="t" x="919" y="198.5">ES2</text><circle class="err" cx="961" cy="198.5" r="10.5"/><text class="t" x="961" y="198.5">e24</text>
<rect class="box" x="905" y="215" width="28" height="21"/><text class="t" x="919" y="225.5">ES3</text><circle class="err" cx="961" cy="225.5" r="10.5"/><text class="t" x="961" y="225.5">e25</text>
<rect class="box" x="905" y="242" width="28" height="21"/><text class="t" x="919" y="252.5">ES4</text><circle class="err" cx="961" cy="252.5" r="10.5"/><text class="t" x="961" y="252.5">e26</text>
<rect class="box" x="905" y="269" width="28" height="21"/><text class="t" x="919" y="279.5">ES5</text><circle class="err" cx="961" cy="279.5" r="10.5"/><text class="t" x="961" y="279.5">e27</text>
</g>
<g id="NMA-ind">
<rect class="box" x="907" y="297" width="28" height="21"/><text class="t" x="921" y="307.5">NMA1</text><circle class="err" cx="963" cy="307.5" r="10.5"/><text class="t" x="963" y="307.5">e28</text>
<rect class="box" x="907" y="323.8" width="28" height="21"/><text class="t" x="921" y="334.3">NMA2</text><circle class="err" cx="963" cy="334.3" r="10.5"/><text class="t" x="963" y="334.3">e29</text>
<rect class="box" x="907" y="350.6" width="28" height="21"/><text class="t" x="921" y="361.1">NMA3</text><circle class="err" cx="963" cy="361.1" r="10.5"/><text class="t" x="963" y="361.1">e30</text>
<rect class="box" x="907" y="377.4" width="28" height="21"/><text class="t" x="921" y="387.9">NMA4</text><circle class="err" cx="963" cy="387.9" r="10.5"/><text class="t" x="963" y="387.9">e31</text>
<rect class="box" x="907" y="404.2" width="28" height="21"/><text class="t" x="921" y="414.7">NMA5</text><circle class="err" cx="963" cy="414.7" r="10.5"/><text class="t" x="963" y="414.7">e32</text>
<rect class="box" x="907" y="431" width="28" height="21"/><text class="t" x="921" y="441.5">NMA6</text><circle class="err" cx="963" cy="441.5" r="10.5"/><text class="t" x="963" y="441.5">e33</text>
<rect class="box" x="907" y="457.8" width="28" height="21"/><text class="t" x="921" y="468.3">NMA7</text><circle class="err" cx="963" cy="468.3" r="10.5"/><text class="t" x="963" y="468.3">e34</text>
</g>
<g id="TSM-ind">
<rect class="box" x="908" y="488.5" width="28" height="21"/><text class="t" x="922" y="499">TSM1</text><circle class="err" cx="963" cy="499" r="10.5"/><text class="t" x="963" y="499">e35</text>
<rect class="box" x="908" y="514.5" width="28" height="21"/><text class="t" x="922" y="525">TSM2</text><circle class="err" cx="963" cy="525" r="10.5"/><text class="t" x="963" y="525">e36</text>
<rect class="box" x="908" y="540.5" width="28" height="21"/><text class="t" x="922" y="551">TSM3</text><circle class="err" cx="963" cy="551" r="10.5"/><text class="t" x="963" y="551">e37</text>
<rect class="box" x="908" y="566.5" width="28" height="21"/><text class="t" x="922" y="577">TSM4</text><circle class="err" cx="963" cy="577" r="10.5"/><text class="t" x="963" y="577">e38</text>
<rect class="box" x="908" y="592.5" width="28" height="21"/><text class="t" x="922" y="603">TSM5</text><circle class="err" cx="963" cy="603" r="10.5"/><text class="t" x="963" y="603">e39</text>
<rect class="box" x="908" y="618.5" width="28" height="21"/><text class="t" x="922" y="629">TSM6</text><circle class="err" cx="963" cy="629" r="10.5"/><text class="t" x="963" y="629">e40</text>
<rect class="box" x="908" y="644.5" width="28" height="21"/><text class="t" x="922" y="655">TSM7</text><circle class="err" cx="963" cy="655" r="10.5"/><text class="t" x="963" y="655">e41</text>
</g>
</svg>
